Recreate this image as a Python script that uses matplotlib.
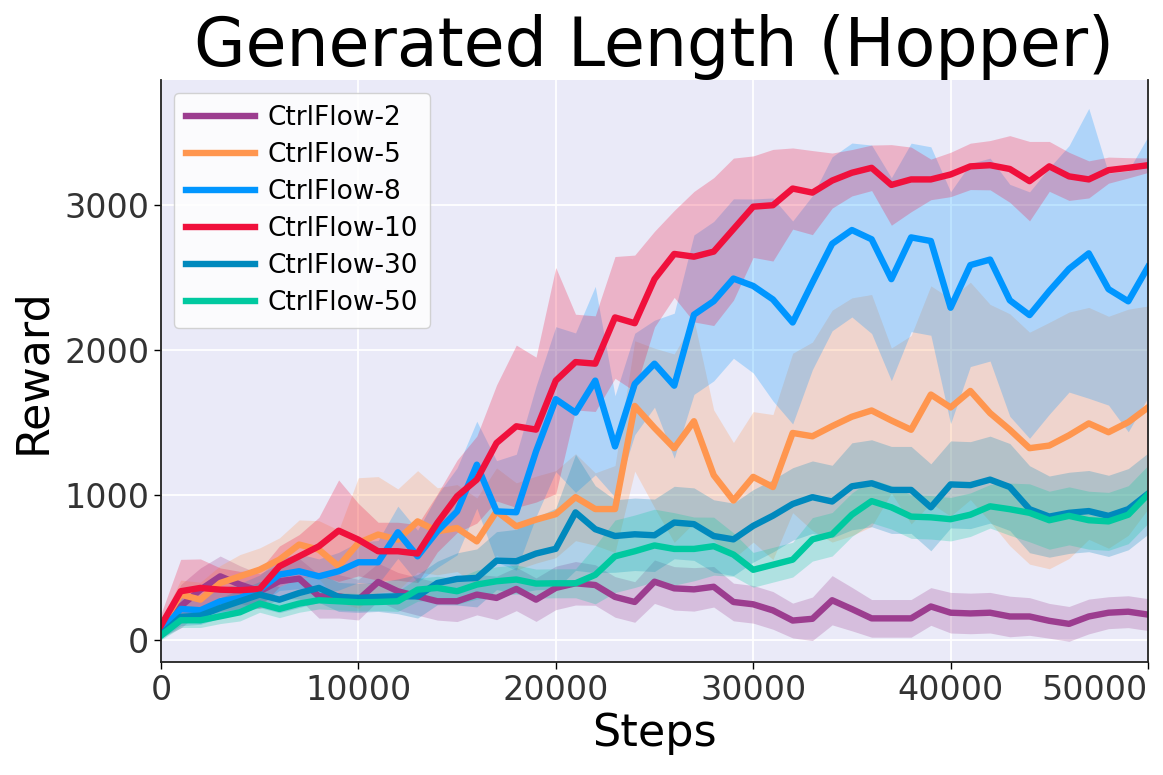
import numpy as np
import matplotlib

matplotlib.use('Agg')

import matplotlib.pyplot as plt

steps = list(range(0, 50001, 1000))

labels = ['CtrlFlow-2', 'CtrlFlow-5', 'CtrlFlow-8', 'CtrlFlow-10', 'CtrlFlow-30', 'CtrlFlow-50']
colors = ['#9C3D8F', '#FF964F', '#0096FF', '#F0103C', '#0089BD', '#00C9A0']

# mean reward per series
flow2 = [49, 233, 348, 440, 383, 337, 406, 424, 302, 302, 279,
         401, 337, 302, 268, 268, 314, 291, 353, 279, 360,
         392, 380, 298, 263, 403, 357, 350, 368, 263, 247,
         205, 135, 147, 275, 214, 150, 150, 150, 232, 189,
         184, 189, 163, 163, 133, 112, 163, 189, 196, 176]
flow5 = [95, 314, 279, 394, 440, 486, 555, 659, 624, 509, 670,
         728, 693, 819, 751, 773, 681, 888, 785, 831, 869,
         986, 904, 904, 1615, 1464, 1324, 1510, 1138, 963, 1126,
         1056, 1429, 1406, 1476, 1541, 1584, 1515, 1451, 1694, 1605,
         1719, 1566, 1451, 1324, 1342, 1413, 1495, 1434, 1503, 1605]
flow8 = [61, 215, 206, 268, 291, 349, 452, 475, 440, 475, 537,
         537, 744, 578, 751, 888, 1210, 888, 882, 1302, 1662,
         1569, 1790, 1336, 1767, 1907, 1755, 2245, 2338, 2494, 2443,
         2350, 2191, 2466, 2734, 2829, 2765, 2490, 2778, 2753, 2293,
         2587, 2625, 2344, 2242, 2408, 2561, 2668, 2421, 2337, 2574]
flow10 = [100, 337, 360, 348, 344, 353, 509, 578, 647, 755, 693,
          613, 613, 597, 808, 992, 1107, 1360, 1475, 1452, 1790,
          1918, 1907, 2226, 2186, 2490, 2664, 2645, 2680, 2835, 2990,
          3000, 3115, 3087, 3170, 3224, 3258, 3140, 3178, 3178, 3212,
          3268, 3276, 3250, 3166, 3268, 3199, 3178, 3242, 3258, 3276]
flow30 = [38, 160, 169, 222, 268, 314, 279, 325, 360, 298, 291,
          298, 302, 302, 394, 422, 429, 548, 544, 597, 630,
          881, 765, 718, 730, 723, 811, 800, 718, 695, 788,
          858, 939, 986, 956, 1061, 1082, 1036, 1036, 916, 1074,
          1069, 1107, 1056, 903, 852, 878, 890, 857, 903, 1010]
flow50 = [31, 137, 137, 164, 192, 252, 215, 252, 275, 268, 261,
          263, 268, 348, 360, 337, 383, 406, 418, 390, 392,
          392, 450, 578, 613, 653, 629, 629, 648, 590, 485,
          520, 555, 695, 730, 865, 959, 916, 852, 847, 834,
          865, 923, 903, 878, 827, 857, 827, 819, 865, 1005]

# half width of the shaded band
flow2_sd = [30, 150, 150, 140, 130, 120, 120, 140, 150, 150, 140,
            130, 130, 130, 130, 140, 140, 150, 150, 150, 150,
            150, 140, 140, 140, 150, 150, 150, 140, 130, 130,
            130, 120, 150, 170, 150, 130, 130, 130, 130, 140,
            140, 140, 140, 130, 120, 120, 120, 110, 110, 110]
flow5_sd = [40, 100, 120, 120, 150, 150, 150, 170, 200, 250, 450,
            400, 350, 350, 300, 300, 300, 300, 300, 300, 300,
            300, 250, 300, 450, 550, 650, 700, 450, 400, 450,
            500, 550, 650, 800, 820, 800, 500, 650, 750, 750,
            750, 750, 800, 800, 850, 850, 800, 800, 780, 700]
flow8_sd = [40, 80, 90, 90, 100, 100, 110, 120, 120, 130, 140,
            150, 180, 180, 250, 300, 300, 350, 400, 450, 500,
            550, 650, 350, 350, 300, 500, 550, 550, 550, 600,
            700, 700, 600, 600, 600, 650, 700, 650, 650, 800,
            700, 700, 800, 850, 850, 850, 1000, 800, 900, 900]
flow10_sd = [80, 220, 200, 150, 130, 130, 140, 150, 200, 350, 250,
             200, 200, 200, 200, 250, 300, 400, 560, 500, 780,
             330, 330, 420, 470, 330, 300, 450, 510, 490, 350,
             385, 280, 290, 190, 160, 157, 278, 223, 140, 153,
             160, 170, 230, 274, 172, 166, 128, 90, 70, 50]
flow30_sd = [30, 60, 60, 70, 80, 90, 90, 100, 100, 100, 100,
             100, 120, 150, 150, 180, 200, 200, 220, 250, 280,
             400, 300, 250, 250, 250, 250, 250, 250, 250, 250,
             250, 250, 250, 250, 300, 300, 300, 300, 300, 300,
             300, 300, 300, 300, 280, 280, 280, 280, 280, 280]
flow50_sd = [30, 50, 50, 50, 60, 60, 60, 60, 60, 60, 60,
             60, 70, 80, 80, 90, 100, 100, 100, 100, 100,
             100, 200, 250, 250, 250, 250, 220, 200, 150, 120,
             120, 120, 150, 150, 150, 150, 150, 150, 150, 150,
             150, 150, 180, 200, 200, 200, 200, 200, 200, 200]

means = [flow2, flow5, flow8, flow10, flow30, flow50]
spreads = [flow2_sd, flow5_sd, flow8_sd, flow10_sd, flow30_sd, flow50_sd]

fig = plt.figure(figsize=(11.63, 7.75), dpi=100)
ax = fig.add_axes([0.1384, 0.146, 0.8487, 0.751])
ax.set_facecolor('#EAEAF8')
ax.grid(True, color='white', linewidth=1.3)
ax.set_axisbelow(True)

x = np.array(steps)
for mean, sd, color, label in zip(means, spreads, colors, labels):
    mean = np.array(mean)
    sd = np.array(sd)
    ax.fill_between(x, mean - sd, mean + sd, color=color, alpha=0.25, linewidth=0)
    ax.plot(x, mean, color=color, linewidth=4.6, label=label)

ax.set_xlim(0, 50000)
ax.set_ylim(-150, 3865)
ax.set_xticks([0, 10000, 20000, 30000, 40000, 50000])
ax.set_yticks([0, 1000, 2000, 3000])
ax.tick_params(axis='both', labelsize=24, labelcolor='#333333', length=5, width=1)
ax.get_xticklabels()[-1].set_horizontalalignment('right')

for side in ['left', 'bottom', 'right']:
    ax.spines[side].set_color('#222222')
    ax.spines[side].set_linewidth(1.3)
ax.spines['top'].set_visible(False)

ax.set_xlabel('Steps', fontsize=32, labelpad=4)
ax.set_ylabel('Reward', fontsize=32, labelpad=7)
ax.set_title('Generated Length (Hopper)', fontsize=48, pad=6)

ax.legend(loc='upper left', fontsize=19, handlelength=2.6, labelspacing=0.42,
          framealpha=0.85, borderpad=0.45, handletextpad=0.5)

plt.savefig('out.png', dpi=100)
